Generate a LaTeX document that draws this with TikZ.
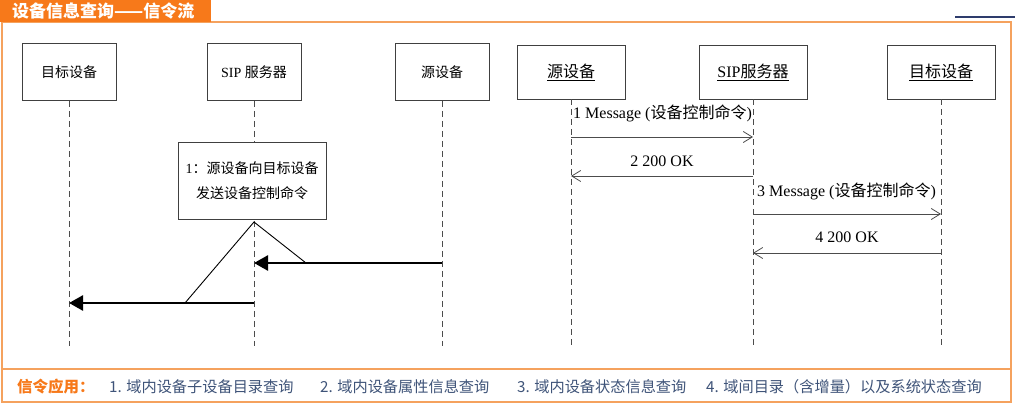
\documentclass[tikz,border=0pt]{standalone}
\usepackage{fontspec}
\setmainfont{Liberation Serif}
\newfontfamily\cjk{Noto Sans CJK SC}
\usetikzlibrary{arrows.meta}

\definecolor{taborange}{HTML}{F7791A}
\definecolor{frameorange}{HTML}{F5A25E}
\definecolor{itemblue}{HTML}{3F5479}
\definecolor{navyline}{HTML}{2E3C6C}

\begin{document}
\begin{tikzpicture}
  [x=1pt,y=-1pt,
   actor/.style={draw=black!75,line width=0.8pt,minimum width=94pt,minimum height=57pt,inner sep=0pt,font=\fontsize{14}{16}\selectfont},
   actorR/.style={actor,minimum width=108pt,minimum height=54pt,font=\fontsize{16}{18}\selectfont},
   life/.style={draw=black!70,line width=0.8pt,dash pattern=on 6pt off 4pt},
   bigarrow/.style={line width=2.6pt,-{Triangle[length=14pt,width=15pt]}},
   msg/.style={draw=black!70,line width=0.8pt,-{Straight Barb[length=9pt,width=11pt]}},
   msglabel/.style={font=\fontsize{16}{18}\selectfont,inner sep=0pt},
   item/.style={anchor=west,text=itemblue,font=\cjk\fontsize{15.2}{17}\selectfont,inner sep=0pt}]
  \useasboundingbox (0,0) rectangle (1015,404);
  \fill[white] (0,0) rectangle (1015,404);
  % frame and title tab
  \draw[frameorange,line width=1.4pt] (2,22) -- (1011,22) -- (1011,402) -- (2,402) -- cycle;
  \draw[frameorange,line width=1.4pt] (2,369) -- (1011,369);
  \fill[taborange] (0,0) rectangle (211,22);
  \draw[navyline,line width=1.5pt] (955,17) -- (1015,17);
  \node[anchor=west,text=white,inner sep=0pt,font=\cjk\bfseries\fontsize{17}{18}\selectfont] (title) at (12,11) {设备信息查询——信令流};

  % left chart
  \node[actor] (dstL) at (69,72)  {\cjk 目标设备};
  \node[actor] (sipL) at (254,72) {SIP {\cjk 服务器}};
  \node[actor] (srcL) at (442,72) {\cjk 源设备};
  \coordinate (bottom) at (0,346);
  \foreach \n in {dstL,sipL,srcL}
    \draw[life] (\n.south) -- (\n |- bottom);
  \node[draw=black!75,line width=0.8pt,fill=white,minimum width=148pt,minimum height=77pt,
        align=center,font=\fontsize{14}{25}\selectfont] (note) at (252,181)
        {1{\cjk ：源设备向目标设备}\\{\cjk 发送设备控制命令}};
  \coordinate (apex) at (254,222);
  \coordinate (tipR) at (306,263);
  \coordinate (tipL) at (185,303);
  \draw[line width=0.9pt] (tipL) -- (apex) -- (tipR);
  \draw[bigarrow] (srcL |- tipR) -- (sipL |- tipR);
  \draw[bigarrow] (sipL |- tipL) -- (dstL |- tipL);

  % right chart
  \node[actorR] (srcR) at (571,72) {\underline{\cjk 源设备}};
  \node[actorR] (sipR) at (753,72) {\underline{SIP{\cjk 服务器}}};
  \node[actorR] (dstR) at (941,72) {\underline{\cjk 目标设备}};
  \foreach \n in {srcR,sipR,dstR}
    \draw[life] (\n.south) -- (\n |- bottom);
  \coordinate (m1) at (0,137);
  \coordinate (m2) at (0,176);
  \coordinate (m3) at (0,214);
  \coordinate (m4) at (0,253);
  \draw[msg] (srcR |- m1) -- (sipR |- m1);
  \draw[msg] (sipR |- m2) -- (srcR |- m2);
  \draw[msg] (sipR |- m3) -- (dstR |- m3);
  \draw[msg] (dstR |- m4) -- (sipR |- m4);
  \node[msglabel,anchor=west] (l1) at (573,113) {1 Message ({\cjk 设备控制命令})};
  \node[msglabel] (l2) at (662,161) {2 200 OK};
  \node[msglabel,anchor=west] (l3) at (757,191) {3 Message ({\cjk 设备控制命令})};
  \node[msglabel] (l4) at (847,237) {4 200 OK};

  % application bar
  \node[anchor=west,text=taborange,inner sep=0pt,font=\cjk\bfseries\fontsize{15.5}{17}\selectfont] (apps) at (17,387) {信令应用：};
  \node[item] (a1) at (109,387) {1. 域内设备子设备目录查询};
  \node[item] (a2) at (320,387) {2. 域内设备属性信息查询};
  \node[item] (a3) at (517,387) {3. 域内设备状态信息查询};
  \node[item] (a4) at (706,387) {4. 域间目录（含增量）以及系统状态查询};
\end{tikzpicture}
\end{document}
